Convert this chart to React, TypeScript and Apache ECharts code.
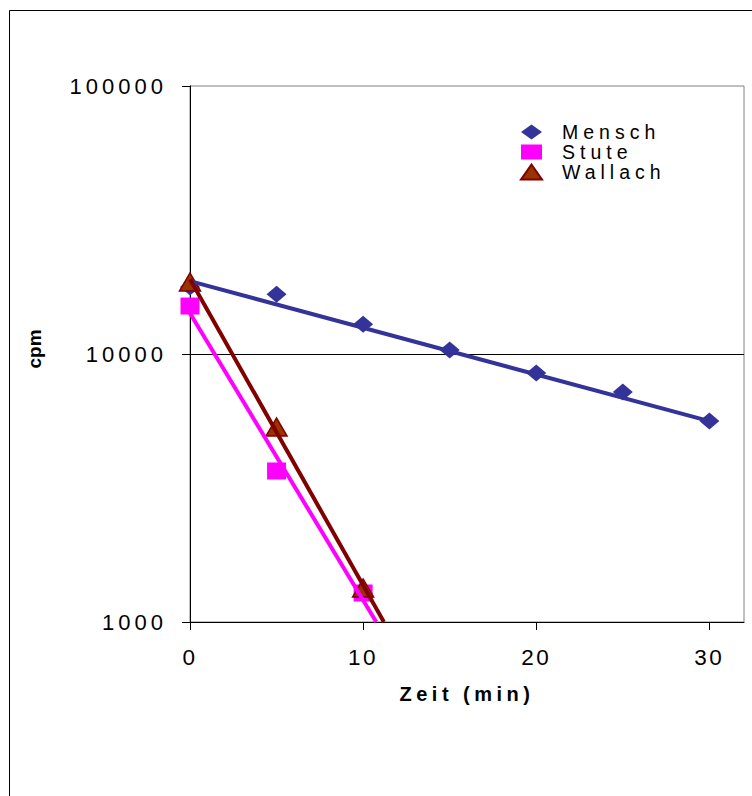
import React, { useEffect, useRef } from "react";
import * as echarts from "echarts";

const seriesNames = ["Mensch", "Stute", "Wallach"];
const menschTimes = [0, 5, 10, 15, 20, 25, 30];
const menschValues = [17800, 16700, 12900, 10350, 8490, 7210, 5620];
const stuteTimes = [0, 5, 10];
const stuteValues = [15100, 3660, 1283];
const wallachTimes = [0, 5, 10];
const wallachValues = [18570, 5340, 1340];

// trend lines (exponential fits): start and end points
const menschTrendX = [0, 30];
const menschTrendY = [18700, 5620];
const stuteTrendX = [0, 10.76];
const stuteTrendY = [14200, 1000];
const wallachTrendX = [0, 11.2];
const wallachTrendY = [19000, 1000];

const xTicks = [0, 10, 20, 30];
const yMin = 1000;
const yMax = 100000;

const FONT = '"Liberation Sans", Arial, sans-serif';

const pairs = (xs: number[], ys: number[]) => xs.map((x, i) => [x, ys[i]]);

export default function App() {
  const ref = useRef<HTMLDivElement>(null);

  useEffect(() => {
    if (!ref.current) return;
    const chart = echarts.init(ref.current, undefined, { renderer: "svg" });
    chart.setOption({
      animation: false,
      backgroundColor: "#ffffff",
      textStyle: { fontFamily: FONT },
      graphic: [
        {
          type: "rect",
          shape: { x: 9.5, y: 10.5, width: 900, height: 900 },
          style: { fill: "none", stroke: "#000000", lineWidth: 1 },
          silent: true,
          z: -10,
        },
      ],
      grid: {
        left: 190,
        top: 86,
        width: 554,
        height: 536,
        show: true,
        borderColor: "#808080",
        borderWidth: 1,
        backgroundColor: "transparent",
      },
      legend: {
        data: seriesNames,
        orient: "vertical",
        left: 520,
        top: 122,
        itemWidth: 21,
        itemHeight: 15,
        itemGap: 0,
        padding: 0,
        textStyle: {
          fontFamily: FONT,
          fontSize: 19.5,
          color: "#000000",
          padding: [0, 0, 0, 15],
        },
      },
      xAxis: {
        type: "value",
        min: 0,
        max: 32,
        interval: 10,
        name: "Zeit (min)",
        nameLocation: "middle",
        nameGap: 62,
        nameTextStyle: {
          fontFamily: FONT,
          fontSize: 20,
          fontWeight: "bold",
          color: "#000000",
        },
        axisLine: { show: true, onZero: false, lineStyle: { color: "#000000", width: 1 } },
        axisTick: {
          show: true,
          inside: false,
          length: 8,
          customValues: xTicks,
          lineStyle: { color: "#000000" },
        },
        axisLabel: {
          customValues: xTicks,
          margin: 24,
          fontFamily: FONT,
          fontSize: 22.5,
          color: "#000000",
        },
        splitLine: { show: false },
      },
      yAxis: {
        type: "log",
        logBase: 10,
        min: yMin,
        max: yMax,
        name: "cpm",
        nameLocation: "middle",
        nameGap: 146,
        nameTextStyle: {
          fontFamily: FONT,
          fontSize: 19,
          fontWeight: "bold",
          color: "#000000",
          padding: [0, 0, 0, 10],
        },
        axisLine: { show: true, lineStyle: { color: "#000000", width: 1 } },
        axisTick: { show: true, inside: false, length: 8, lineStyle: { color: "#000000" } },
        minorTick: { show: false },
        axisLabel: {
          margin: 23,
          fontFamily: FONT,
          fontSize: 22,
          color: "#000000",
          formatter: (v: number) => String(Math.round(v)),
        },
        splitLine: {
          show: true,
          showMinLine: false,
          showMaxLine: false,
          lineStyle: { color: "#000000", width: 1 },
        },
      },
      series: [
        {
          name: "Mensch",
          type: "scatter",
          symbol: "diamond",
          symbolSize: [20, 17],
          itemStyle: { color: "#333399", opacity: 1 },
          data: pairs(menschTimes, menschValues),
          z: 2,
        },
        {
          name: "Stute",
          type: "scatter",
          symbol: "rect",
          symbolSize: [19, 17],
          itemStyle: { color: "#ff00ff", opacity: 1 },
          data: pairs(stuteTimes, stuteValues),
          z: 3,
        },
        {
          name: "Wallach",
          type: "scatter",
          symbol: "triangle",
          symbolSize: [21, 18],
          itemStyle: { color: "#993300", borderColor: "#800000", borderWidth: 1.5, opacity: 1 },
          data: pairs(wallachTimes, wallachValues),
          z: 4,
        },
        {
          name: "Mensch Trend",
          type: "line",
          symbol: "none",
          lineStyle: { color: "#333399", width: 4 },
          data: pairs(menschTrendX, menschTrendY),
          z: 5,
          clip: true,
        },
        {
          name: "Stute Trend",
          type: "line",
          symbol: "none",
          lineStyle: { color: "#ff00ff", width: 4 },
          data: pairs(stuteTrendX, stuteTrendY),
          z: 5,
          clip: true,
        },
        {
          name: "Wallach Trend",
          type: "line",
          symbol: "none",
          lineStyle: { color: "#800000", width: 4 },
          data: pairs(wallachTrendX, wallachTrendY),
          z: 6,
          clip: true,
        },
      ],
    });
    return () => chart.dispose();
  }, []);

  return (
    <>
      <style>{`
        .chartbox text[style*="22px"] { letter-spacing: 4px; }
        .chartbox text[style*="22.5px"] { letter-spacing: 2.5px; }
        .chartbox text[style*="19.5px"] { letter-spacing: 5px; }
        .chartbox text[style*="20px"] { letter-spacing: 4.5px; }
      `}</style>
      <div
        ref={ref}
        className="chartbox"
        style={{ position: "fixed", left: 0, top: 0, width: 752, height: 796, background: "#fff" }}
      />
    </>
  );
}
